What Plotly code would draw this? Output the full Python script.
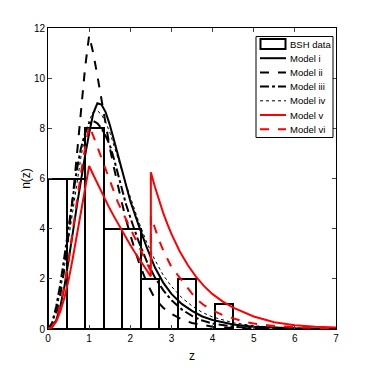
import plotly.graph_objects as go

# BSH data histogram (bin edges and counts)
bin_left = [0.0, 0.45, 0.9, 1.35, 1.8, 2.25, 2.7, 3.15, 3.6, 4.05]
bin_width = 0.45
bsh_counts = [6, 6, 8, 4, 4, 2, 0, 2, 0, 1]

# smooth models (black)
z_smooth = [0.0, 0.1, 0.2, 0.3, 0.4, 0.5, 0.6, 0.7, 0.8, 0.9, 1.0, 1.1, 1.2, 1.3, 1.4,
            1.5, 1.6, 1.7, 1.8, 1.9, 2.0, 2.2, 2.4, 2.6, 2.8, 3.0, 3.25, 3.5, 3.75,
            4.0, 4.5, 5.0, 5.5, 6.0, 6.5, 7.0]
model_i = [0.0, 0.1, 0.35, 0.9, 1.7, 2.7, 3.8, 4.9, 5.95, 6.9, 7.8, 8.6, 9.0, 8.95, 8.65,
           8.15, 7.55, 6.95, 6.35, 5.7, 5.1, 4.15, 3.25, 2.45, 1.85, 1.4, 1.0, 0.72, 0.5,
           0.36, 0.18, 0.09, 0.05, 0.025, 0.012, 0.006]
model_iii = [0.0, 0.25, 0.9, 1.8, 2.9, 4.1, 5.3, 6.35, 7.2, 7.8, 8.2, 8.3, 8.2, 8.0, 7.7,
             7.35, 6.8, 6.15, 5.55, 4.95, 4.45, 3.5, 2.7, 2.05, 1.55, 1.15, 0.78, 0.52, 0.34,
             0.22, 0.09, 0.035, 0.014, 0.006, 0.002, 0.001]
model_iv = [0.0, 0.2, 0.7, 1.5, 2.5, 3.6, 4.75, 5.85, 6.85, 7.7, 8.3, 8.65, 8.7, 8.55, 8.25,
            7.85, 7.35, 6.85, 6.3, 5.75, 5.25, 4.3, 3.45, 2.75, 2.15, 1.7, 1.25, 0.92, 0.66,
            0.48, 0.25, 0.13, 0.07, 0.035, 0.018, 0.009]

# peaked model ii (kink at z=1)
model_ii = [0.0, 0.15, 0.6, 1.35, 2.4, 3.7, 5.2, 6.9, 8.7, 10.4, 11.7, 11.0, 10.1, 9.1, 8.1,
            7.25, 6.45, 5.7, 5.0, 4.35, 3.75, 2.7, 1.85, 1.2, 0.85, 0.6, 0.38, 0.24, 0.15,
            0.09, 0.035, 0.015, 0.006, 0.003, 0.001, 0.0]

# models v and vi (kink at z=1, jump at z=2.5)
z_jump = [0.0, 0.1, 0.2, 0.3, 0.4, 0.5, 0.6, 0.7, 0.8, 0.9, 1.0, 1.1, 1.2, 1.3, 1.4, 1.5,
          1.6, 1.7, 1.8, 1.9, 2.0, 2.1, 2.2, 2.3, 2.4, 2.5, 2.5, 2.6, 2.7, 2.8, 2.9, 3.0,
          3.2, 3.4, 3.6, 3.8, 4.0, 4.25, 4.5, 4.75, 5.0, 5.5, 6.0, 6.5, 7.0]
model_v = [0.0, 0.07, 0.3, 0.7, 1.25, 1.95, 2.8, 3.75, 4.7, 5.6, 6.5, 6.15, 5.8, 5.45, 5.12,
           4.8, 4.5, 4.2, 3.9, 3.62, 3.35, 3.08, 2.82, 2.58, 2.34, 2.1, 6.25, 5.66, 5.12,
           4.63, 4.19, 3.79, 3.1, 2.54, 2.08, 1.7, 1.39, 1.09, 0.85, 0.66, 0.5, 0.27,
           0.15, 0.09, 0.055]
model_vi = [0.0, 0.1, 0.4, 0.95, 1.7, 2.7, 3.9, 5.1, 6.2, 7.2, 8.1, 7.7, 7.25, 6.8, 6.35,
            5.9, 5.45, 5.05, 4.7, 4.35, 4.0, 3.65, 3.3, 2.95, 2.6, 2.3, 4.5, 3.99, 3.54,
            3.14, 2.78, 2.47, 2.05, 1.6, 1.2, 0.94, 0.74, 0.55, 0.41, 0.3, 0.22, 0.12,
            0.07, 0.04, 0.02]

legend_names = ['BSH data', 'Model i', 'Model ii', 'Model iii', 'Model iv', 'Model v', 'Model vi']

curve_styles = [
    (z_smooth, model_i, 'black', 'solid', 2),
    (z_smooth, model_ii, 'black', 'dash', 2),
    (z_smooth, model_iii, 'black', 'dashdot', 2),
    (z_smooth, model_iv, 'black', 'dot', 1),
    (z_jump, model_v, 'red', 'solid', 2),
    (z_jump, model_vi, 'red', 'dash', 2),
]

# plot area in figure pixels (figure is placed 8px in from the page corner)
W, H = 355, 355
L, T, PW, PH = 40, 20, 288, 301


def px(x):
    return (x - 8 - L) / PW


def py(y):
    return (T + PH - (y - 8)) / PH


fig = go.Figure()

fig.add_trace(go.Bar(
    x=bin_left, y=bsh_counts, width=[bin_width] * len(bin_left), offset=0,
    marker=dict(color='white', line=dict(color='black', width=2)),
    showlegend=False
))

for zs, vals, col, dash, w in curve_styles:
    fig.add_trace(go.Scatter(
        x=zs, y=vals, mode='lines', showlegend=False,
        line=dict(color=col, dash=dash, width=w)
    ))

# hand-built legend, MATLAB style
shapes = [dict(type='rect', xref='paper', yref='paper',
               x0=px(256), x1=px(333), y0=py(137.5), y1=py(36.5),
               fillcolor='white', line=dict(color='black', width=1))]
annotations = []
row_y = [44, 58.2, 72.4, 86.6, 100.8, 115, 129.2]
for i, name in enumerate(legend_names):
    yc = row_y[i]
    if i == 0:
        shapes.append(dict(type='rect', xref='paper', yref='paper',
                           x0=px(260.5), x1=px(285.5), y0=py(49), y1=py(39),
                           fillcolor='white', line=dict(color='black', width=2)))
    else:
        _, _, col, dash, w = curve_styles[i - 1]
        shapes.append(dict(type='line', xref='paper', yref='paper',
                           x0=px(260), x1=px(286), y0=py(yc), y1=py(yc),
                           line=dict(color=col, dash=dash, width=w)))
    annotations.append(dict(xref='paper', yref='paper', x=px(288), y=py(yc),
                            text=name, showarrow=False, xanchor='left', yanchor='middle',
                            font=dict(size=9.5, color='black')))

fig.update_layout(
    width=W, height=H,
    margin=dict(l=L, r=W - L - PW, t=T, b=H - T - PH),
    plot_bgcolor='white', paper_bgcolor='white',
    font=dict(family='Liberation Sans, Arial', size=10, color='black'),
    showlegend=False,
    bargap=0,
    shapes=shapes,
    annotations=annotations,
    xaxis=dict(
        range=[0, 7], tickvals=list(range(8)), ticks='inside', ticklen=4,
        showline=True, linecolor='black', mirror='ticks', showgrid=False, zeroline=False,
        title=dict(text='z', standoff=9), automargin=False,
    ),
    yaxis=dict(
        range=[0, 12], tickvals=list(range(0, 13, 2)), ticks='inside', ticklen=4,
        showline=True, linecolor='black', mirror='ticks', showgrid=False, zeroline=False,
        title=dict(text='n(z)', standoff=0), automargin=False,
    ),
)

fig.write_html("out.html")
